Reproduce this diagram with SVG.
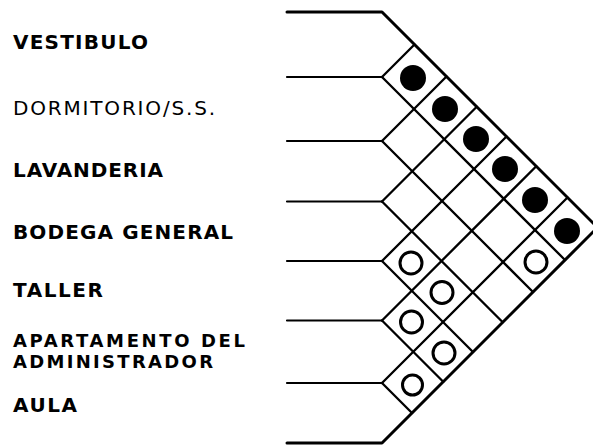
<svg xmlns="http://www.w3.org/2000/svg" width="593" height="445" viewBox="0 0 593 445">
<style>
.lbl{font-family:"DejaVu Sans","Liberation Sans",Arial,sans-serif;font-size:20px;font-weight:bold;fill:#000}
.sm{font-size:18px}
.thin{font-weight:normal}
.h{stroke:#000;stroke-width:2.2;fill:none;stroke-linecap:round;stroke-linejoin:round}
.g{stroke:#000;stroke-width:2.3;fill:none;stroke-linecap:round}
.b{stroke:#000;stroke-width:3;fill:none;stroke-linejoin:round;stroke-linecap:round}
.f{fill:#000}
.o{fill:none;stroke:#000;stroke-width:3}
</style>
<rect width="593" height="445" fill="#fff"/>
<g id="node-vestibulo"><text class="lbl" x="13" y="49" textLength="135" lengthAdjust="spacing">VESTIBULO</text></g>
<g id="node-dormitorio"><text class="lbl thin" x="13" y="115" textLength="202" lengthAdjust="spacing">DORMITORIO/S.S.</text></g>
<g id="node-lavanderia"><text class="lbl" x="13" y="177" textLength="150" lengthAdjust="spacing">LAVANDERIA</text></g>
<g id="node-bodega"><text class="lbl" x="13" y="239" textLength="220" lengthAdjust="spacing">BODEGA GENERAL</text></g>
<g id="node-taller"><text class="lbl" x="13" y="297" textLength="90" lengthAdjust="spacing">TALLER</text></g>
<g id="node-apartamento"><text class="lbl sm"><tspan x="13" y="347" textLength="232" lengthAdjust="spacing">APARTAMENTO DEL</tspan><tspan x="13" y="368" textLength="200" lengthAdjust="spacing">ADMINISTRADOR</tspan></text></g>
<g id="node-aula"><text class="lbl" x="13" y="412" textLength="64" lengthAdjust="spacing">AULA</text></g>
<g id="connectors">
<path class="h" d="M287 77H382M287 141H382M287 201.5H382M287 261H382M287 320.5H382M287 383H382"/>
<path class="b" d="M287 12H382L597.5 227.5L382 443H287"/>
<path class="g" d="M382 77L565 260M382 141L533 292M382 201.5L502.75 322.25M382 261L473 352M382 320.5L443.25 381.75M382 383L412 413"/>
<path class="g" d="M382 77L414.5 44.5M382 141L446.5 76.5M382 201.5L476.75 106.75M382 261L506.5 136.5M382 320.5L536.25 166.25M382 383L567.5 197.5"/>
</g>
<g id="cells">
<circle class="f" cx="413" cy="78" r="13"/>
<circle class="f" cx="445" cy="109" r="13"/>
<circle class="f" cx="476" cy="139" r="13"/>
<circle class="f" cx="505" cy="169" r="13"/>
<circle class="f" cx="535" cy="200" r="13"/>
<circle class="f" cx="567" cy="231" r="13"/>
<circle class="o" cx="411" cy="263" r="11"/>
<circle class="o" cx="442" cy="292.5" r="11"/>
<circle class="o" cx="411.5" cy="322" r="11"/>
<circle class="o" cx="444" cy="353" r="11"/>
<circle class="o" cx="412.5" cy="385" r="10"/>
<circle class="o" cx="536" cy="262" r="11"/>
</g>
</svg>
